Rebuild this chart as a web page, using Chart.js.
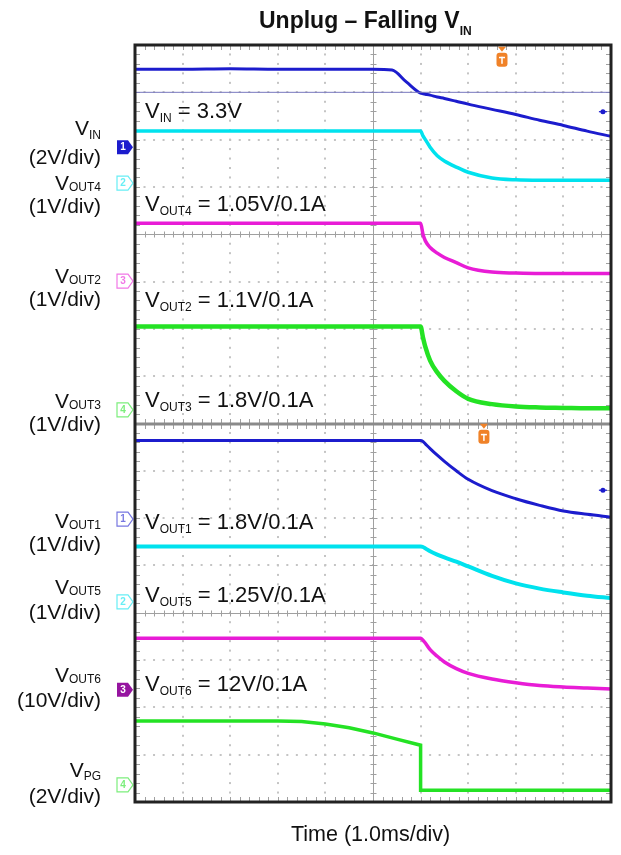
<!DOCTYPE html>
<html><head><meta charset="utf-8">
<script src="https://cdn.jsdelivr.net/npm/chart.js@4/dist/chart.umd.min.js"></script>
<style>
html,body{margin:0;padding:0;background:#fff;}
#wrap{position:relative;width:621px;height:855px;overflow:hidden;background:#fff;}
canvas{position:absolute;left:0;top:0;}
.lbl{position:absolute;white-space:nowrap;font-family:"Liberation Sans",Arial,sans-serif;color:#111;}
.lbl span.s{position:relative;}
</style></head><body>
<div id="wrap"><canvas id="c" width="621" height="855"></canvas></div>
<script>
// ---------- DATA (screen divisions read from the scope capture) ----------
// time axis in divisions (1.0 ms/div), 0..10
const timeDiv = [0,1,2,3,3.5,4,4.5,5,5.4,5.7,6,6.05,6.1,6.2,6.35,6.5,6.75,7,7.5,8,8.5,9,9.5,10];

// upper capture (divisions above its bottom edge, 0..8)
const vinDiv   = [7.49,7.49,7.50,7.49,7.49,7.49,7.49,7.49,7.47,7.22,6.98,6.97,6.96,6.94,6.90,6.87,6.81,6.75,6.64,6.53,6.41,6.30,6.18,6.07];
const vinRefDiv = [7.0,7.0];
const vinRefTime = [0,10];
const vout4Div = [6.18,6.18,6.18,6.18,6.18,6.18,6.18,6.18,6.18,6.18,6.18,6.08,6.00,5.84,5.66,5.55,5.42,5.31,5.19,5.15,5.14,5.14,5.14,5.14];
const vout2Div = [4.23,4.23,4.23,4.23,4.23,4.23,4.23,4.23,4.23,4.23,4.23,4.00,3.86,3.72,3.60,3.51,3.40,3.29,3.20,3.18,3.17,3.17,3.17,3.17];
const vout3Div = [2.05,2.05,2.05,2.05,2.05,2.05,2.05,2.05,2.05,2.05,2.05,1.82,1.62,1.33,1.08,0.90,0.68,0.52,0.41,0.36,0.34,0.33,0.32,0.32];

// lower capture (divisions above its bottom edge, 0..8)
const vout1Div = [7.64,7.64,7.64,7.64,7.64,7.64,7.64,7.64,7.64,7.64,7.64,7.62,7.57,7.47,7.33,7.20,7.00,6.82,6.58,6.41,6.27,6.15,6.08,6.02];
const vout5Div = [5.40,5.40,5.40,5.40,5.40,5.40,5.40,5.40,5.40,5.40,5.40,5.39,5.36,5.30,5.23,5.17,5.08,4.98,4.78,4.62,4.51,4.43,4.36,4.31];
const vout6Div = [3.46,3.46,3.46,3.46,3.46,3.46,3.46,3.46,3.46,3.46,3.46,3.42,3.36,3.22,3.08,2.96,2.82,2.72,2.60,2.52,2.46,2.43,2.41,2.39];
const vpgTime  = [0,1,2,3,3.5,4,4.5,5,5.5,6,6,7,8,9,10];
const vpgDiv   = [1.71,1.71,1.71,1.71,1.70,1.65,1.57,1.46,1.33,1.20,0.25,0.25,0.25,0.25,0.25];

// channel reference markers (division on the combined 0..16 screen)
const chanMarkerLabels = ['1','2','3','4','1','2','3','4'];
const chanMarkerDiv    = [13.84,13.08,11.01,8.29,5.98,4.23,2.37,0.36];
const trigTime = [7.71,7.33];
const trigDiv  = [15.73,7.76];
const plusTime = [9.83,9.83];
const plusDiv  = [14.59,6.59];

const COL = {blue:'rgb(28,28,205)', cyan:'rgb(0,226,238)', mag:'rgb(232,28,214)', green:'rgb(36,226,36)', ref:'rgb(120,120,190)'};
const UPPER = 8; // upper capture sits on divisions 8..16

function pts(t, v, base){ return t.map((tt,i)=>({x:tt, y:v[i]+base})); }

const markerColors = [COL.blue, COL.cyan, COL.mag, COL.green, COL.blue, COL.cyan, 'rgb(150,20,160)', COL.green];
const markerFilled = [true,false,false,false,false,false,true,false];

const scopeGrid = {
  id:'scopeGrid',
  beforeDatasetsDraw(chart){
    const {ctx, chartArea:a, scales:{x,y}} = chart;
    ctx.save();
    ctx.fillStyle = '#c4c4c4';
    for(let i=1;i<10;i++){ if(i===5) continue;
      const px = Math.round(x.getPixelForValue(i));
      for(let k=0;k<=80;k++){ const py=y.getPixelForValue(k*0.2); ctx.fillRect(px-1,py-1,2,2);} }
    for(let j=1;j<16;j++){ if(j===4||j===8||j===12) continue;
      const py = Math.round(y.getPixelForValue(j));
      for(let k=0;k<=50;k++){ const px=x.getPixelForValue(k*0.2); ctx.fillRect(px-1,py-1,2,2);} }
    ctx.strokeStyle='#a0a0a0'; ctx.lineWidth=1;
    // centre vertical
    const cx = Math.round(x.getPixelForValue(5))+0.5;
    ctx.beginPath(); ctx.moveTo(cx,a.top); ctx.lineTo(cx,a.bottom); ctx.stroke();
    ctx.beginPath();
    for(let k=0;k<=80;k++){ const py=Math.round(y.getPixelForValue(k*0.2))+0.5; const L = (k%5===0)?4:3; ctx.moveTo(cx-L,py); ctx.lineTo(cx+L,py);} ctx.stroke();
    // centre horizontals
    [4,12].forEach(v=>{ const py=Math.round(y.getPixelForValue(v))+0.5;
      ctx.beginPath(); ctx.moveTo(a.left,py); ctx.lineTo(a.right,py); ctx.stroke();
      ctx.beginPath(); for(let k=0;k<=50;k++){ const px=Math.round(x.getPixelForValue(k*0.2))+0.5; ctx.moveTo(px,py-3); ctx.lineTo(px,py+3);} ctx.stroke(); });
    // edge ticks
    ctx.beginPath();
    const sy=Math.round(y.getPixelForValue(8));
    for(let k=0;k<=50;k++){ const px=Math.round(x.getPixelForValue(k*0.2))+0.5;
      ctx.moveTo(px,a.top); ctx.lineTo(px,a.top+5); ctx.moveTo(px,a.bottom); ctx.lineTo(px,a.bottom-5);
      ctx.moveTo(px,sy-5); ctx.lineTo(px,sy+5); }
    for(let k=0;k<=80;k++){ const py=Math.round(y.getPixelForValue(k*0.2))+0.5;
      ctx.moveTo(a.left,py); ctx.lineTo(a.left+5,py); ctx.moveTo(a.right,py); ctx.lineTo(a.right-5,py); }
    ctx.stroke();
    // separator between captures
    ctx.strokeStyle='#8a8a8a'; ctx.lineWidth=3;
    ctx.beginPath(); ctx.moveTo(a.left,sy); ctx.lineTo(a.right,sy); ctx.stroke();
    ctx.restore();
  },
  afterDatasetsDraw(chart){
    const {ctx, chartArea:a, scales:{x,y}} = chart;
    ctx.save();
    ctx.strokeStyle='#222'; ctx.lineWidth=3;
    ctx.strokeRect(a.left, a.top, a.right-a.left, a.bottom-a.top);
    // channel markers
    ctx.font='bold 10px "Liberation Sans", Arial, sans-serif'; ctx.textAlign='center'; ctx.textBaseline='middle';
    chanMarkerDiv.forEach((v,i)=>{
      const py=y.getPixelForValue(v), px=a.left-12, c=markerColors[i];
      ctx.beginPath(); ctx.moveTo(px-6,py-7); ctx.lineTo(px+5,py-7); ctx.lineTo(px+10,py); ctx.lineTo(px+5,py+7); ctx.lineTo(px-6,py+7); ctx.closePath();
      if(markerFilled[i]){ ctx.fillStyle=c; ctx.fill(); ctx.fillStyle='#fff'; }
      else { ctx.fillStyle='#fff'; ctx.fill(); ctx.globalAlpha=0.6; ctx.strokeStyle=c; ctx.lineWidth=1.2; ctx.stroke(); ctx.fillStyle=c; }
      ctx.fillText(chanMarkerLabels[i], px, py+0.5); ctx.globalAlpha=1;
    });
    // trigger markers
    trigTime.forEach((t,i)=>{
      const px=x.getPixelForValue(t), py=y.getPixelForValue(trigDiv[i]);
      ctx.fillStyle='rgb(240,130,40)';
      ctx.beginPath(); ctx.moveTo(px-4,py-11); ctx.lineTo(px+4,py-11); ctx.lineTo(px,py-6); ctx.closePath(); ctx.fill();
      ctx.beginPath(); ctx.roundRect(px-5.5,py-5,11,14,3); ctx.fill();
      ctx.fillStyle='#fff'; ctx.fillRect(px-3,py-1,6,1.5); ctx.fillRect(px-0.75,py-1,1.5,7);
    });
    // position markers
    plusTime.forEach((t,i)=>{
      const px=x.getPixelForValue(t), py=y.getPixelForValue(plusDiv[i]);
      ctx.fillStyle=COL.blue; ctx.beginPath(); ctx.arc(px,py,2.5,0,Math.PI*2); ctx.fill();
      ctx.fillRect(px-4,py-0.6,8,1.2);
    });
    ctx.restore();
  }
};

const lineDs = (data,color,w)=>({data, borderColor:color, borderWidth:w, pointRadius:0, fill:false, cubicInterpolationMode:'monotone'});

new Chart(document.getElementById('c'), {
  type:'line',
  data:{ datasets:[
    {data:pts(vinRefTime,vinRefDiv,UPPER), borderColor:COL.ref, borderWidth:1, pointRadius:0, tension:0},
    lineDs(pts(timeDiv,vinDiv,UPPER), COL.blue, 3),
    lineDs(pts(timeDiv,vout4Div,UPPER), COL.cyan, 3.5),
    lineDs(pts(timeDiv,vout2Div,UPPER), COL.mag, 3.5),
    lineDs(pts(timeDiv,vout3Div,UPPER), COL.green, 4.5),
    lineDs(pts(timeDiv,vout1Div,0), COL.blue, 3),
    lineDs(pts(timeDiv,vout5Div,0), COL.cyan, 4),
    lineDs(pts(timeDiv,vout6Div,0), COL.mag, 3.5),
    {data:pts(vpgTime,vpgDiv,0), borderColor:COL.green, borderWidth:3.5, pointRadius:0, tension:0}
  ]},
  options:{
    responsive:false, animation:false, devicePixelRatio:1,
    layout:{padding:{left:135,right:10,top:45,bottom:53}},
    scales:{ x:{type:'linear',min:0,max:10,display:false}, y:{type:'linear',min:0,max:16,display:false} },
    plugins:{legend:{display:false}, tooltip:{enabled:false}}
  },
  plugins:[scopeGrid]
});

// ---------- TEXT ----------
const wrap = document.getElementById('wrap');
function label(parts, x, baseline, fs, opt){
  opt = opt||{};
  const d = document.createElement('div'); d.className='lbl';
  d.style.fontSize=fs+'px'; d.style.lineHeight=fs+'px';
  if(opt.bold) d.style.fontWeight='bold';
  d.style.top=(baseline-0.8465*fs)+'px';
  if(opt.right){ d.style.right=(621-x)+'px'; } else { d.style.left=x+'px'; }
  parts.forEach(p=>{
    const s=document.createElement('span');
    if(typeof p==='string'){ s.textContent=p; }
    else { s.textContent=p.sub; s.className='s'; s.style.fontSize=(opt.subSize||12)+'px'; s.style.top=(opt.subDrop||4)+'px'; }
    d.appendChild(s);
  });
  wrap.appendChild(d);
}
label(['Unplug – Falling V',{sub:'IN'}], 259, 28, 23, {bold:true, subSize:12, subDrop:7});
label(['Time (1.0ms/div)'], 291, 842, 21.5);

// left labels
const L = 101;
label(['V',{sub:'IN'}], L, 135, 21, {right:true, subDrop:4});
label(['(2V/div)'], L, 164, 21, {right:true});
label(['V',{sub:'OUT4'}], L, 190, 21, {right:true, subDrop:1});
label(['(1V/div)'], L, 213, 21, {right:true});
label(['V',{sub:'OUT2'}], L, 283, 21, {right:true, subDrop:1});
label(['(1V/div)'], L, 306, 21, {right:true});
label(['V',{sub:'OUT3'}], L, 408, 21, {right:true, subDrop:1});
label(['(1V/div)'], L, 431, 21, {right:true});
label(['V',{sub:'OUT1'}], L, 528, 21, {right:true, subDrop:1});
label(['(1V/div)'], L, 551, 21, {right:true});
label(['V',{sub:'OUT5'}], L, 594, 21, {right:true, subDrop:1});
label(['(1V/div)'], L, 619, 21, {right:true});
label(['V',{sub:'OUT6'}], L, 682, 21, {right:true, subDrop:1});
label(['(10V/div)'], L, 707, 21, {right:true});
label(['V',{sub:'PG'}], L, 777, 21, {right:true, subDrop:3});
label(['(2V/div)'], L, 803, 21, {right:true});

// in-plot labels
const IX = 145;
label(['V',{sub:'IN'},' = 3.3V'], IX, 119, 22);
label(['V',{sub:'OUT4'},' = 1.05V/0.1A'], IX, 212, 22);
label(['V',{sub:'OUT2'},' = 1.1V/0.1A'], IX, 308, 22);
label(['V',{sub:'OUT3'},' = 1.8V/0.1A'], IX, 408, 22);
label(['V',{sub:'OUT1'},' = 1.8V/0.1A'], IX, 530, 22);
label(['V',{sub:'OUT5'},' = 1.25V/0.1A'], IX, 603, 22);
label(['V',{sub:'OUT6'},' = 12V/0.1A'], IX, 692, 22);
</script>
</body></html>
